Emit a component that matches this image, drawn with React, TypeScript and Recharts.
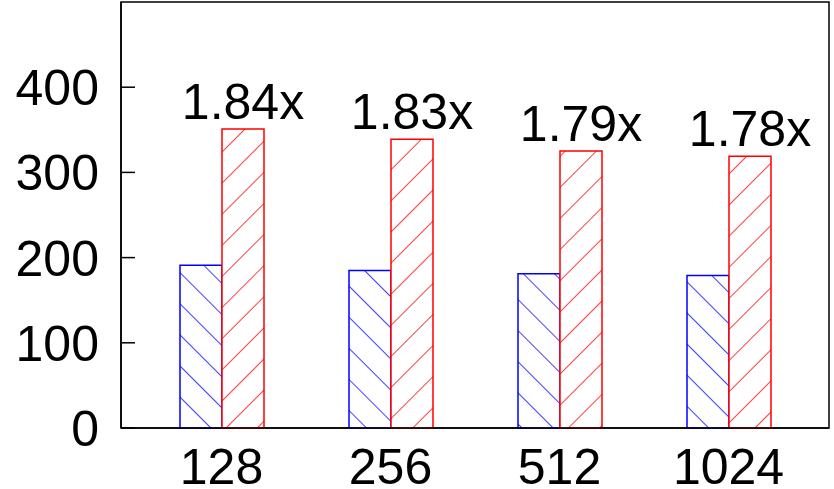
import * as R from "recharts";
import { BarChart, Bar, XAxis, YAxis, LabelList } from "recharts";

const sizes = ["128", "256", "512", "1024"];
const baseline = [191, 185, 181, 179];
const optimized = [351, 339, 325, 319];
const speedups = ["1.84x", "1.83x", "1.79x", "1.78x"];
const yTicks = [0, 100, 200, 300, 400];

const data = sizes.map((s, i) => ({
  size: s,
  base: baseline[i],
  opt: optimized[i],
  speedup: speedups[i],
}));

const font = "'Liberation Sans', Arial, Helvetica, sans-serif";

const YTick = ({ x, y, payload }: any) => (
  <g>
    <line x1={x} x2={x + 14} y1={y} y2={y} stroke="#000" strokeWidth={1.5} />
    <text x={x - 22} y={y} dy={18} textAnchor="end" fontSize={50} fontFamily={font} fill="#000">
      {payload.value}
    </text>
  </g>
);

const XTick = ({ x, y, payload }: any) => (
  <text x={x} y={y} dy={56} textAnchor="middle" fontSize={50} fontFamily={font} fill="#000">
    {payload.value}
  </text>
);

// box around the plot area (top and right edges)
const usePlot = (R as any).usePlotArea;
const Frame = () => {
  const area = usePlot ? usePlot() : null;
  if (!area) return null;
  return (
    <rect
      x={area.x}
      y={area.y}
      width={area.width}
      height={area.height}
      fill="none"
      stroke="#000"
      strokeWidth={1.5}
    />
  );
};

export default function App() {
  return (
    <div style={{ position: "absolute", left: 0, top: 0, background: "#fff" }}>
      <BarChart
        width={834}
        height={489}
        data={data}
        margin={{ top: 2, right: 5, left: 0, bottom: 0 }}
        barGap={0}
        barSize={42}
      >
        <defs>
          <pattern id="hatchBlue" patternUnits="userSpaceOnUse" width={22} height={22} patternTransform="rotate(-45)">
            <rect width={22} height={22} fill="#fff" />
            <line x1={0} y1={0} x2={0} y2={22} stroke="#0000ff" strokeWidth={1.5} />
          </pattern>
          <pattern id="hatchRed" patternUnits="userSpaceOnUse" width={22} height={22} patternTransform="rotate(45)">
            <rect width={22} height={22} fill="#fff" />
            <line x1={0} y1={0} x2={0} y2={22} stroke="#ff0000" strokeWidth={1.5} />
          </pattern>
        </defs>
        <XAxis
          dataKey="size"
          height={61}
          padding={{ left: 16, right: 16 }}
          tickLine={false}
          tickSize={0}
          tickMargin={0}
          tick={<XTick />}
          axisLine={{ stroke: "#000", strokeWidth: 1.5 }}
        />
        <YAxis
          width={121}
          domain={[0, 500]}
          ticks={yTicks}
          tickLine={false}
          tickSize={0}
          tickMargin={0}
          tick={<YTick />}
          axisLine={{ stroke: "#000", strokeWidth: 1.5 }}
        />
        <Bar dataKey="base" fill="url(#hatchBlue)" stroke="#0000ff" strokeWidth={1.5} isAnimationActive={false} />
        <Bar dataKey="opt" fill="url(#hatchRed)" stroke="#ff0000" strokeWidth={1.5} isAnimationActive={false}>
          <LabelList dataKey="speedup" position="top" offset={10} fontSize={50} fontFamily={font} fill="#000" />
        </Bar>
        <Frame />
      </BarChart>
    </div>
  );
}
